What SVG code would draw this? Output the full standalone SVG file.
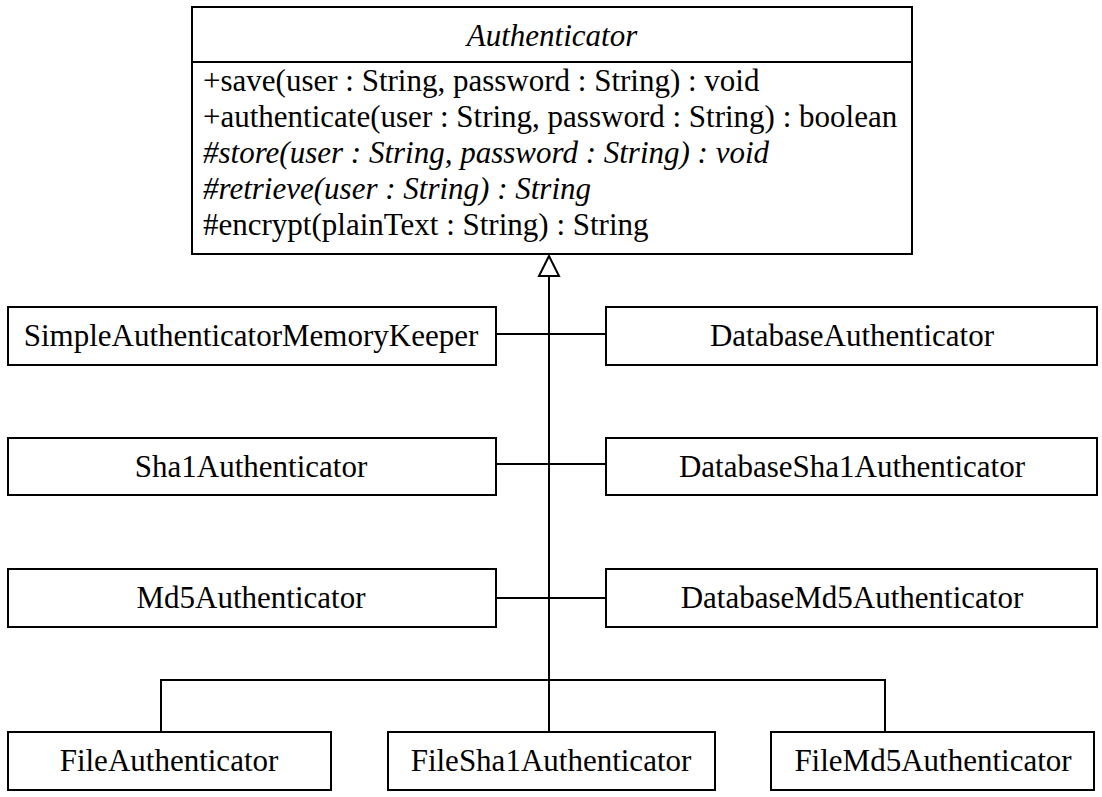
<svg xmlns="http://www.w3.org/2000/svg" width="1102" height="797" viewBox="0 0 1102 797">
<style>
.box{fill:#fff;stroke:#000;stroke-width:2}
.t{font-family:"Liberation Serif","Times New Roman",serif;font-size:31px;fill:#000}
.c{text-anchor:middle}
.i{font-style:italic}
.ln{stroke:#000;stroke-width:2;fill:none}
</style>
<rect width="1102" height="797" fill="#fff"/>
<g id="Authenticator">
<rect class="box" x="192" y="7" width="720" height="247"/>
<line class="ln" x1="192" y1="62" x2="912" y2="62"/>
<text class="t c i" x="552" y="46">Authenticator</text>
<text class="t" x="203" y="91">+save(user : String, password : String) : void</text>
<text class="t" x="203" y="127">+authenticate(user : String, password : String) : boolean</text>
<text class="t i" x="203" y="163">#store(user : String, password : String) : void</text>
<text class="t i" x="203" y="199">#retrieve(user : String) : String</text>
<text class="t" x="203" y="235">#encrypt(plainText : String) : String</text>
</g>
<g id="connectors">
<line class="ln" x1="549" y1="276" x2="549" y2="732"/>
<polygon class="ln" points="549,256 539,276 559,276" fill="#fff"/>
<line class="ln" x1="496" y1="334" x2="606" y2="334"/>
<line class="ln" x1="496" y1="464" x2="606" y2="464"/>
<line class="ln" x1="496" y1="598" x2="606" y2="598"/>
<polyline class="ln" points="161,732 161,680 885,680 885,732"/>
</g>
<g id="SimpleAuthenticatorMemoryKeeper">
<rect class="box" x="8" y="307" width="488" height="58"/>
<text class="t c" x="251" y="346">SimpleAuthenticatorMemoryKeeper</text>
</g>
<g id="DatabaseAuthenticator">
<rect class="box" x="606" y="307" width="491" height="58"/>
<text class="t c" x="852" y="346">DatabaseAuthenticator</text>
</g>
<g id="Sha1Authenticator">
<rect class="box" x="8" y="438" width="488" height="57"/>
<text class="t c" x="251" y="477">Sha1Authenticator</text>
</g>
<g id="DatabaseSha1Authenticator">
<rect class="box" x="606" y="438" width="491" height="57"/>
<text class="t c" x="852" y="477">DatabaseSha1Authenticator</text>
</g>
<g id="Md5Authenticator">
<rect class="box" x="8" y="569" width="488" height="58"/>
<text class="t c" x="251" y="608">Md5Authenticator</text>
</g>
<g id="DatabaseMd5Authenticator">
<rect class="box" x="606" y="569" width="491" height="58"/>
<text class="t c" x="852" y="608">DatabaseMd5Authenticator</text>
</g>
<g id="FileAuthenticator">
<rect class="box" x="8" y="732" width="323" height="58"/>
<text class="t c" x="169" y="771">FileAuthenticator</text>
</g>
<g id="FileSha1Authenticator">
<rect class="box" x="388" y="732" width="327" height="58"/>
<text class="t c" x="551" y="771">FileSha1Authenticator</text>
</g>
<g id="FileMd5Authenticator">
<rect class="box" x="771" y="732" width="323" height="58"/>
<text class="t c" x="933" y="771">FileMd5Authenticator</text>
</g>
</svg>
